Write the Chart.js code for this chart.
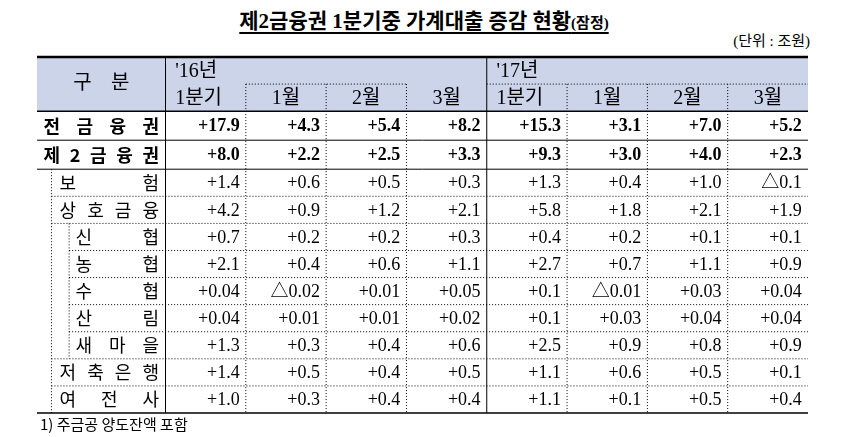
<!DOCTYPE html>
<html><head><meta charset="utf-8">
<script src="https://cdn.jsdelivr.net/npm/chart.js@4"></script>
<style>
body{margin:0;background:#fff;font-family:"Liberation Serif","Noto Sans CJK KR",serif}
#wrap{position:relative;width:848px;height:437px}
#title{position:absolute;top:4px;left:0;width:848px;text-align:center;font-weight:bold;font-size:21px;text-decoration:underline;text-underline-offset:4px}
#title small{font-size:15px}
#unit{position:absolute;top:29px;right:38px;font-size:15px}
#note{position:absolute;top:413px;left:40px;font-size:15px;font-family:"Noto Sans CJK KR"}
canvas{position:absolute;left:0;top:0}
</style></head><body>
<div id="wrap">
<div id="title">제2금융권 1분기중 가계대출 증감 현황<small>(잠정)</small></div>
<div id="unit">(단위 : 조원)</div>
<canvas id="c" width="848" height="437"></canvas>
<div id="note">1) 주금공 양도잔액 포함</div>
</div>
<script>
const years = ["'16년", "'17년"];
const periods = ['1분기', '1월', '2월', '3월', '1분기', '1월', '2월', '3월'];
const rowLabels = ['전금융권', '제2금융권', '보험', '상호금융', '신협', '농협', '수협', '산림', '새마을', '저축은행', '여전사'];
const rowIndent = [0, 0, 1, 1, 2, 2, 2, 2, 2, 1, 1];
const q1_16  = ['+17.9', '+8.0', '+1.4', '+4.2', '+0.7', '+2.1', '+0.04', '+0.04', '+1.3', '+1.4', '+1.0'];
const jan_16 = ['+4.3', '+2.2', '+0.6', '+0.9', '+0.2', '+0.4', '△0.02', '+0.01', '+0.3', '+0.5', '+0.3'];
const feb_16 = ['+5.4', '+2.5', '+0.5', '+1.2', '+0.2', '+0.6', '+0.01', '+0.01', '+0.4', '+0.4', '+0.4'];
const mar_16 = ['+8.2', '+3.3', '+0.3', '+2.1', '+0.3', '+1.1', '+0.05', '+0.02', '+0.6', '+0.5', '+0.4'];
const q1_17  = ['+15.3', '+9.3', '+1.3', '+5.8', '+0.4', '+2.7', '+0.1', '+0.1', '+2.5', '+1.1', '+1.1'];
const jan_17 = ['+3.1', '+3.0', '+0.4', '+1.8', '+0.2', '+0.7', '△0.01', '+0.03', '+0.9', '+0.6', '+0.1'];
const feb_17 = ['+7.0', '+4.0', '+1.0', '+2.1', '+0.1', '+1.1', '+0.03', '+0.04', '+0.8', '+0.5', '+0.5'];
const mar_17 = ['+5.2', '+2.3', '△0.1', '+1.9', '+0.1', '+0.9', '+0.04', '+0.04', '+0.9', '+0.1', '+0.4'];
const columns = [q1_16, jan_16, feb_16, mar_16, q1_17, jan_17, feb_17, mar_17];

// layout grid (scale units)
const colEdges = [0, 1.6, 2.6, 3.6, 4.6, 5.6, 6.6, 7.6, 8.6, 9.6];
const rowEdges = [56, 86, 116, 144, 172, 200, 228, 256, 284, 312, 340, 368];
const HEAD = 56;

const datasets = columns.map((vals, c) => ({
  label: periods[c],
  data: vals.map((v, r) => ({x: (colEdges[c + 1] + colEdges[c + 2]) / 2, y: (rowEdges[r] + rowEdges[r + 1]) / 2, t: v, r})),
  pointRadius: 0, showLine: false
}));

function spread(ctx, text, x0, x1, y) {
  const chars = text.split('');
  const w = chars.map(ch => ctx.measureText(ch).width);
  const gap = (x1 - x0 - w.reduce((a, b) => a + b, 0)) / (chars.length - 1);
  ctx.textAlign = 'left';
  let x = x0;
  chars.forEach((ch, i) => { ctx.fillText(ch, x, y); x += w[i] + gap; });
}

const tablePlugin = {
  id: 'table',
  beforeDatasetsDraw(chart) {
    const {ctx, scales: {x, y}} = chart;
    const X = v => x.getPixelForValue(v), Y = v => y.getPixelForValue(v);
    ctx.save();
    ctx.fillStyle = '#ccd4ea';
    ctx.fillRect(X(0), Y(0), X(9.6) - X(0), Y(HEAD) - Y(0));
    ctx.strokeStyle = '#000';
    const line = (x0, y0, x1, y1, w, dash) => {
      ctx.lineWidth = w; ctx.setLineDash(dash ? [1, 2] : []);
      ctx.beginPath(); ctx.moveTo(x0, y0); ctx.lineTo(x1, y1); ctx.stroke();
    };
    // horizontals
    line(X(0), Y(0), X(9.6), Y(0), 2.5);
    line(X(0), Y(HEAD), X(9.6), Y(HEAD), 1.5);
    line(X(2.6), Y(28), X(4.6), Y(28), 1, true);
    line(X(5.6), Y(28), X(9.6), Y(28), 1, true);
    rowEdges.slice(1).forEach((e, i) => {
      const last = i === rowEdges.length - 2;
      if (last) line(X(0), Y(e), X(9.6), Y(e), 1.5);
      else if (i < 2) line(X(0), Y(e), X(9.6), Y(e), 1);
      else {
        const ind = rowIndent[i + 1] === 2 && rowIndent[i] === 2 ? 0.4 : 0.18;
        line(X(ind), Y(e), X(9.6), Y(e), 1, true);
      }
    });
    // verticals
    line(X(1.6), Y(0), X(1.6), Y(368), 1);
    line(X(5.6), Y(0), X(5.6), Y(368), 1);
    [2.6, 3.6, 4.6, 6.6, 7.6, 8.6].forEach(v => line(X(v), Y(28), X(v), Y(368), 1, true));
    line(X(0.18), Y(116), X(0.18), Y(368), 1, true);
    line(X(0.4), Y(172), X(0.4), Y(312), 1, true);
    // header text
    ctx.fillStyle = '#000';
    ctx.textBaseline = 'middle';
    ctx.font = '20px "Liberation Serif", "Noto Sans CJK KR"';
    spread(ctx, '구분', X(0.45), X(1.15), Y(28));
    ctx.textAlign = 'left';
    ctx.fillText(years[0], X(1.72), Y(15));
    ctx.fillText(years[1], X(5.72), Y(15));
    periods.forEach((p, i) => {
      ctx.textAlign = p === '1분기' ? 'left' : 'center';
      const xx = p === '1분기' ? X(colEdges[i + 1] + 0.12) : X((colEdges[i + 1] + colEdges[i + 2]) / 2);
      ctx.fillText(p, xx, Y(43));
    });
    // row labels
    rowLabels.forEach((l, r) => {
      ctx.font = (r < 2 ? 'bold ' : '') + '18px "Noto Sans CJK KR"';
      const x0 = [0.08, 0.28, 0.48][rowIndent[r]];
      spread(ctx, l, X(x0), X(1.52), Y((rowEdges[r] + rowEdges[r + 1]) / 2));
    });
    ctx.restore();
  },
  afterDatasetsDraw(chart) {
    const {ctx} = chart;
    ctx.save();
    ctx.fillStyle = '#000';
    ctx.textAlign = 'right';
    ctx.textBaseline = 'middle';
    chart.data.datasets.forEach((ds, i) => {
      chart.getDatasetMeta(i).data.forEach((el, j) => {
        const d = ds.data[j];
        ctx.font = (d.r < 2 ? 'bold ' : '') + '18px "Liberation Serif", "Noto Sans CJK KR"';
        ctx.fillText(d.t, el.x + 34, el.y + 1);
      });
    });
    ctx.restore();
  }
};

new Chart(document.getElementById('c'), {
  type: 'scatter',
  data: {datasets},
  options: {
    responsive: false,
    animation: false,
    layout: {padding: {left: 37, right: 40, top: 57, bottom: 24}},
    scales: {
      x: {type: 'linear', min: 0, max: 9.6, display: false},
      y: {type: 'linear', min: 0, max: 368, reverse: true, display: false}
    },
    plugins: {legend: {display: false}, tooltip: {enabled: false}}
  },
  plugins: [tablePlugin]
});
</script>
</body></html>
